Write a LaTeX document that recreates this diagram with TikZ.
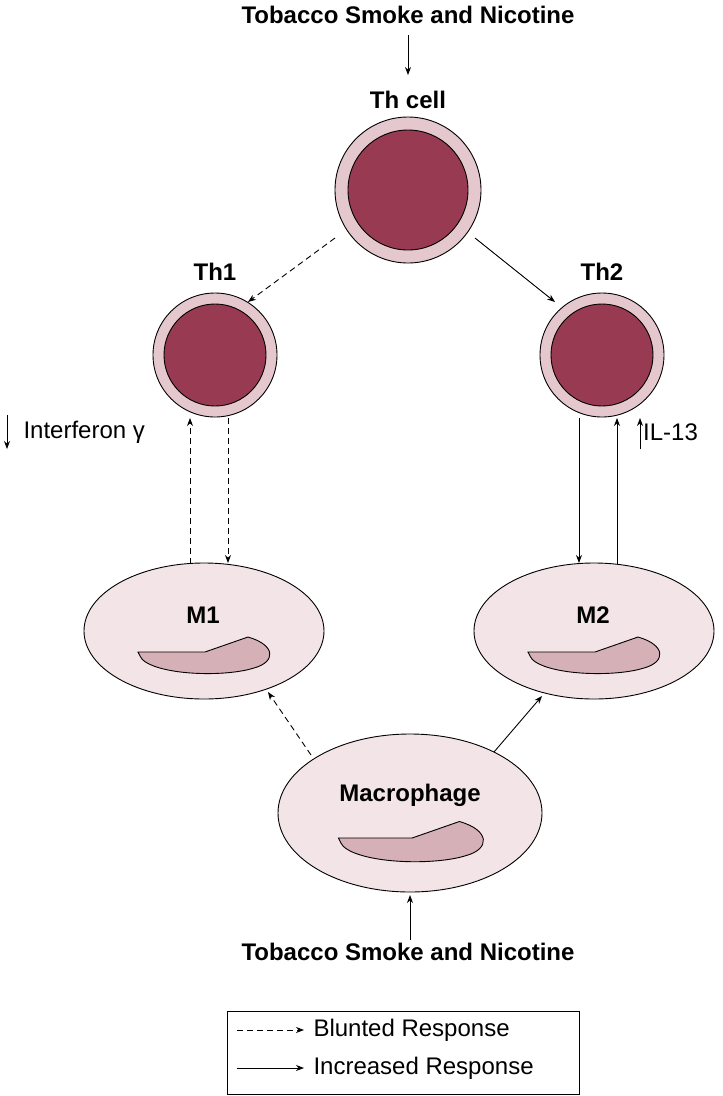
\documentclass[tikz,border=0pt]{standalone}
\usepackage{fontspec}
\setmainfont{Liberation Sans}
\usetikzlibrary{arrows.meta}
\definecolor{ring}{HTML}{E4C8CE}
\definecolor{core}{HTML}{993A53}
\definecolor{cellf}{HTML}{F2E4E7}
\definecolor{nuc}{HTML}{D5B0B6}
\begin{document}
\begin{tikzpicture}[x=1pt,y=-1pt,
  ar/.style={-{Stealth[length=8pt,width=6pt]},line width=0.9pt},
  da/.style={ar,dash pattern=on 6pt off 4pt},
  lab/.style={font=\bfseries\fontsize{24}{28}\selectfont},
  txt/.style={font=\fontsize{24}{28}\selectfont},
  mac/.style={draw,line width=0.9pt,fill=cellf},
  nucl/.style={draw,line width=0.9pt,fill=nuc}]
\useasboundingbox (0,0) rectangle (723,1096);
\newcommand{\tcell}[4]{%
  \fill[ring,draw=black,line width=0.9pt] (#1,#2) circle (#3);
  \fill[core,draw=black,line width=0.9pt] (#1,#2) circle (#4);}
\newcommand{\nucleus}[3]{%
  \draw[nucl,shift={(#1,#2)},scale=#3] (-66,0) -- (1,0) -- (44,-15) .. controls (72,-7) and (72,10) .. (50,16) .. controls (25,24) and (-30,24) .. (-55,12) .. controls (-62,8) .. (-66,0) -- cycle;}
\node[lab] (top) at (408,15) {Tobacco Smoke and Nicotine};
\node[lab] (thl) at (408,100) {Th cell};
\tcell{408}{190}{73}{60}
\node[circle,minimum size=146pt,inner sep=0] (th) at (408,190) {};
\node[lab] at (215,272) {Th1};
\node[lab] at (602,272) {Th2};
\tcell{215}{355}{62}{51}
\tcell{602}{355}{62}{51}
\node[circle,minimum size=124pt,inner sep=0] (th1) at (215,355) {};
\node[circle,minimum size=124pt,inner sep=0] (th2) at (602,355) {};
\draw[mac] (204,631) ellipse (120 and 68);
\draw[mac] (594,631) ellipse (120 and 68);
\draw[mac] (410,813) ellipse (132 and 79);
\node[lab] (m1) at (203,615) {M1};
\node[lab] (m2) at (593,615) {M2};
\node[lab] (mac) at (410,795) {Macrophage};
\nucleus{204}{652}{1}
\nucleus{594}{652}{1}
\nucleus{411}{838}{1.1}
\node[lab] (bot) at (408,952) {Tobacco Smoke and Nicotine};
\coordinate (a1) at (408,35); \coordinate (a2) at (408,75);
\draw[ar] (a1) -- (a2);
\coordinate (b1) at (410,940); \coordinate (b2) at (410,895);
\draw[ar] (b1) -- (b2);
\coordinate (c1) at (335,238); \coordinate (c2) at (248,302);
\draw[da] (c1) -- (c2);
\coordinate (d1) at (475,238); \coordinate (d2) at (555,302);
\draw[ar] (d1) -- (d2);
\coordinate (e1) at (190,564); \coordinate (e2) at (190,418);
\draw[da] (e1) -- (e2);
\coordinate (f1) at (228,418); \coordinate (f2) at (228,563);
\draw[da] (f1) -- (f2);
\coordinate (g1) at (579,418); \coordinate (g2) at (579,563);
\draw[ar] (g1) -- (g2);
\coordinate (h1) at (617,564); \coordinate (h2) at (617,418);
\draw[ar] (h1) -- (h2);
\coordinate (i1) at (311,755); \coordinate (i2) at (268,692);
\draw[da] (i1) -- (i2);
\coordinate (j1) at (494,752); \coordinate (j2) at (542,696);
\draw[ar] (j1) -- (j2);
\coordinate (k1) at (7,415); \coordinate (k2) at (7,449);
\draw[ar] (k1) -- (k2);
\node[txt,anchor=west] (ifn) at (20,432) {Interferon γ};
\coordinate (l1) at (640,449); \coordinate (l2) at (640,418);
\draw[ar] (l1) -- (l2);
\node[txt,anchor=west,inner sep=1pt] (il) at (642,432) {IL-13};
\node[draw,line width=0.9pt,minimum width=352pt,minimum height=83pt,inner sep=0] (leg) at (403,1053) {};
\coordinate (p1) at (237,1030); \coordinate (p2) at (304,1030);
\draw[da] (p1) -- (p2);
\node[txt,anchor=west] at (310,1030) {Blunted Response};
\coordinate (q1) at (237,1068); \coordinate (q2) at (304,1068);
\draw[ar] (q1) -- (q2);
\node[txt,anchor=west] at (310,1068) {Increased Response};
\end{tikzpicture}
\end{document}
